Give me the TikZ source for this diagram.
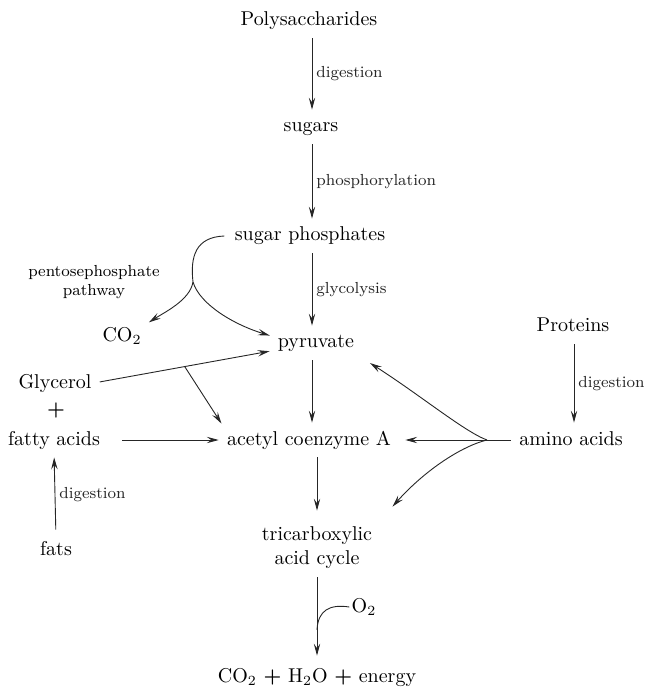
\documentclass[tikz,border=0pt]{standalone}
\usepackage{amsmath}
\usetikzlibrary{arrows.meta,positioning,calc}

\begin{document}
\begin{tikzpicture}[x=0.5pt, y=-0.5pt,
    % --- Node styles ---
    compound/.style={inner sep=1pt, text height=7pt, text depth=2pt},
    process/.style={font=\footnotesize, inner sep=2pt, right},
    % --- Edge styles ---
    react/.style={-{Stealth[length=6pt, width=3.2pt, inset=2.3pt]}, line width=0.45pt,
                  black!85, shorten >=3pt, shorten <=3pt},
    feed/.style={line width=0.45pt, black!85},
]
\useasboundingbox (0,0) rectangle (648,688);

% ============================================================
% Carbohydrate route: polysaccharides down to the TCA cycle
% ============================================================
\coordinate (spine) at (312,0);

\node[compound] (poly)   at (309, 21)  {Polysaccharides};
\node[compound] (sugars) at (311, 127) {sugars};
\node[compound] (sphos)  at (310, 236) {sugar phosphates};
\node[compound] (pyr)    at (316, 343) {pyruvate};
\node[compound] (acoa)   at (309, 440) {acetyl coenzyme A};
\node[compound, align=center, text height=, text depth=] (tca) at (317, 548)
     {tricarboxylic\\acid cycle};
\node[compound] (final)  at (317, 677) {CO$_2$ \textbf{+} H$_2$O \textbf{+} energy};

\draw[react] (poly.south -| spine)   -- node[process] {digestion}       (sugars.north -| spine);
\draw[react] (sugars.south -| spine) -- node[process] {phosphorylation} (sphos.north -| spine);
\draw[react] (sphos.south -| spine)  -- node[process] {glycolysis}      (pyr.north -| spine);
\draw[react] (pyr.south -| spine)    -- (acoa.north -| spine);
\draw[react, shorten >=7pt] (acoa.south -| tca) -- (tca.north);

% oxygen joins the last step
\node[compound] (otwo) at (364, 607) {O$_2$};
\draw[react, shorten >=5pt] (tca.south) -- coordinate[pos=0.62] (ojoin) (final.north);
\draw[feed] (otwo.west) .. controls (330,604) and (318,610) .. (ojoin);

% ============================================================
% Pentose phosphate side branch
% ============================================================
\node[font=\footnotesize, align=center] (ppp) at (94, 282) {pentosephosphate\\pathway};
\node[compound] (co2l) at (122, 337) {CO$_2$};

\coordinate (ppfork) at (193, 282);
\draw[feed] ($(sphos.west)+(-8,0)$) .. controls (196,237) and (190,256) .. (ppfork);
\draw[react, shorten <=0pt] (ppfork) .. controls (190,300) and (165,312) .. (co2l.north east);
\draw[react, shorten <=0pt] (ppfork) .. controls (200,305) and (235,325) .. (pyr.172);

% ============================================================
% Fats: glycerol + fatty acids
% ============================================================
\node[compound] (glyc)  at (55, 383) {Glycerol};
\node[compound] (plus)  at (56, 410) {\textbf{+}};
\node[compound] (fatty) at (54, 440) {fatty acids};
\node[compound] (fats)  at (56, 550) {fats};

\draw[react] (glyc.east) -- coordinate[pos=0.5] (gfork) (pyr.190);
\draw[react, shorten <=0pt] (gfork) -- (acoa.north west);
\draw[react, shorten <=10pt] (fatty.east) -- (acoa.west);
\draw[react, shorten <=4.5pt] (fats.north) -- node[process] {digestion} (fatty.south);

% ============================================================
% Proteins: amino acids feed three entry points
% ============================================================
\node[compound] (prot)  at (573, 327) {Proteins};
\node[compound] (amino) at (571, 440) {amino acids};

\draw[react] (prot.south -| amino) ++(3,0) -- node[process] {digestion} ($(amino.north)+(3,0)$);

\coordinate (afork) at (487, 440);
\draw[feed, shorten <=3pt] (amino.west) -- (afork);
\draw[react, shorten <=0pt, shorten >=6pt] (afork) -- (acoa.east);
\draw[react, shorten <=0pt, shorten >=8pt] (afork) .. controls (465,432) and (420,395) .. (pyr.south east);
\draw[react, shorten <=0pt, shorten >=0pt] (afork) .. controls (462,446) and (425,470) .. ($(tca.north east)+(18,-18)$);

\end{tikzpicture}
\end{document}
